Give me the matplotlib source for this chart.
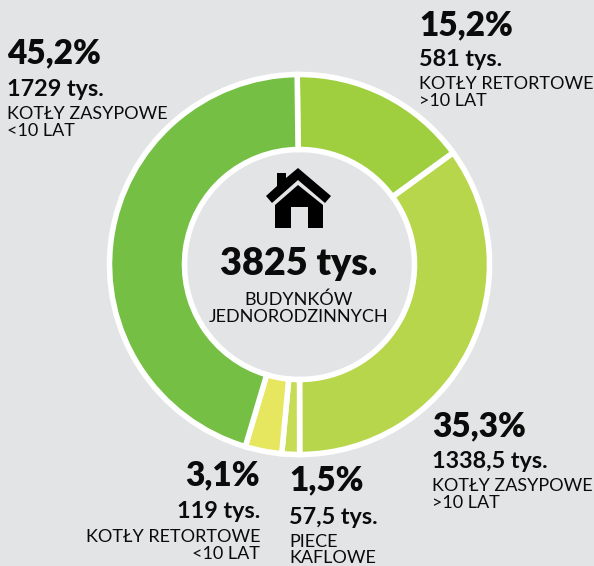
import matplotlib
matplotlib.use("Agg")
import matplotlib.pyplot as plt
from matplotlib.path import Path
from matplotlib.patches import PathPatch

BG = "#E3E4E6"
TXT = "#0B0B0B"

# wartości
values = [581, 1338.5, 57.5, 119, 1729]
colors = ["#9FCE3E", "#B8D64B", "#C6DC55", "#E6E65F", "#74BF44"]

percents = ["15,2%", "35,3%", "1,5%", "3,1%", "45,2%"]
amounts = ["581 tys.", "1338,5 tys.", "57,5 tys.", "119 tys.", "1729 tys."]
names = ["KOTŁY RETORTOWE\n>10 LAT", "KOTŁY ZASYPOWE\n>10 LAT", "PIECE\nKAFLOWE",
         "KOTŁY RETORTOWE\n<10 LAT", "KOTŁY ZASYPOWE\n<10 LAT"]

total_label = "3825 tys."
center_label = "BUDYNKÓW\nJEDNORODZINNYCH"

plt.rcParams["font.family"] = ["Lato", "DejaVu Sans"]

W, H = 594, 566
fig = plt.figure(figsize=(W / 100, H / 100), dpi=100, facecolor=BG)
ax = fig.add_axes([0, 0, 1, 1])

# pierścień (oś y odwrócona, więc counterclock=True daje ruch wskazówek zegara)
cx, cy, R = 299.5, 264.5, 190
wedges, _ = ax.pie(values, colors=colors, startangle=-90.7, counterclock=True,
                   center=(cx, cy), radius=R, frame=True,
                   wedgeprops=dict(width=R - 115, edgecolor="white", linewidth=4))
ax.set_xlim(0, W)
ax.set_ylim(H, 0)
ax.set_aspect("auto")
ax.axis("off")

# ikona domu
roof = [(298, 168), (286, 178), (286, 173), (277, 173), (277, 186), (266, 196), (272, 203),
        (298, 180), (325, 203), (331, 196), (298, 168)]
body = [(298, 185), (275, 205), (275, 228), (291, 228), (291, 207), (308, 207), (308, 228),
        (323, 228), (323, 205), (298, 185)]
for verts in (roof, body):
    ax.add_patch(PathPatch(Path(verts), facecolor="black", edgecolor="none"))

ax.text(cx - 1, 264, total_label, ha="center", va="center", fontsize=27.2, fontweight="heavy", color=TXT)
ax.text(cx - 1, 308, center_label, ha="center", va="center", fontsize=13, color=TXT, linespacing=1.05)

# etykiety: x, wyrównanie, y procentu, y ilości, y nazwy
label_pos = [
    (419, "left", 25, 59, 92.5),
    (432, "left", 426, 461, 494.5),
    (289, "left", 480, 517, 550),
    (260, "right", 475, 511, 545.5),
    (7, "left", 53, 89, 122.5),
]
for i, (x, ha, y1, y2, y3) in enumerate(label_pos):
    ax.text(x, y1, percents[i], ha=ha, va="center", fontsize=24, fontweight="heavy", color=TXT)
    ax.text(x, y2, amounts[i], ha=ha, va="center", fontsize=16.8, fontweight="bold", color=TXT)
    ax.text(x, y3, names[i], ha=ha, va="center", fontsize=13, color=TXT, linespacing=1.05)

fig.savefig("out.png", dpi=100, facecolor=BG)
